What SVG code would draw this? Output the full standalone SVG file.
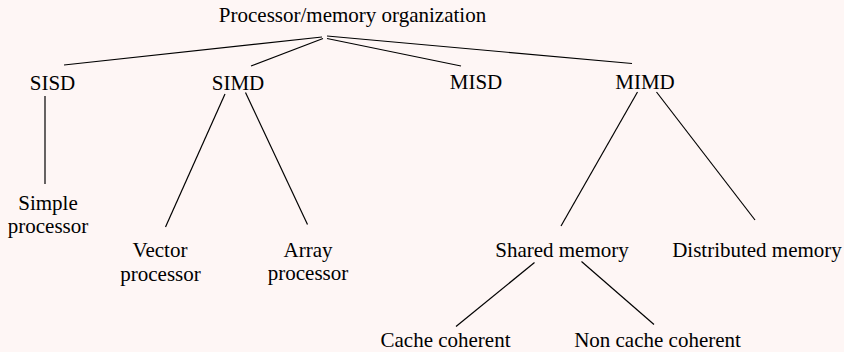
<svg xmlns="http://www.w3.org/2000/svg" width="844" height="352" viewBox="0 0 844 352">
<style>
text{font-family:"Liberation Serif","Times New Roman",serif;font-size:21px;fill:#000;text-anchor:middle}
.c line{stroke:#000;stroke-width:1.2;fill:none}
</style>
<rect width="844" height="352" fill="#FEF6F5"/>
<g class="c" id="connectors">
<line x1="322" y1="37" x2="64" y2="65"/>
<line x1="323" y1="38.5" x2="251" y2="66"/>
<line x1="327" y1="38.5" x2="461" y2="66"/>
<line x1="327" y1="36" x2="632" y2="63.5"/>
<line x1="45" y1="96" x2="45" y2="184"/>
<line x1="225" y1="94" x2="165.5" y2="227"/>
<line x1="245.5" y1="92.5" x2="307.5" y2="224.5"/>
<line x1="637.5" y1="92" x2="561" y2="226"/>
<line x1="656.5" y1="92" x2="755" y2="220"/>
<line x1="534.5" y1="262.5" x2="456" y2="326.5"/>
<line x1="581.5" y1="261.5" x2="654" y2="324.5"/>
</g>
<g id="root"><text x="352.5" y="22">Processor/memory organization</text></g>
<g id="sisd"><text x="52.5" y="90">SISD</text></g>
<g id="simd"><text x="238" y="90">SIMD</text></g>
<g id="misd"><text x="476" y="89">MISD</text></g>
<g id="mimd"><text x="645" y="89">MIMD</text></g>
<g id="simple"><text x="48" y="210">Simple</text><text x="48" y="233">processor</text></g>
<g id="vector"><text x="160" y="257">Vector</text><text x="160.5" y="281">processor</text></g>
<g id="array"><text x="308" y="257">Array</text><text x="308" y="279.5">processor</text></g>
<g id="shared"><text x="562" y="257">Shared memory</text></g>
<g id="distributed"><text x="757" y="257">Distributed memory</text></g>
<g id="cache"><text x="445.5" y="346.5">Cache coherent</text></g>
<g id="noncache"><text x="657.5" y="346.5">Non cache coherent</text></g>
</svg>
